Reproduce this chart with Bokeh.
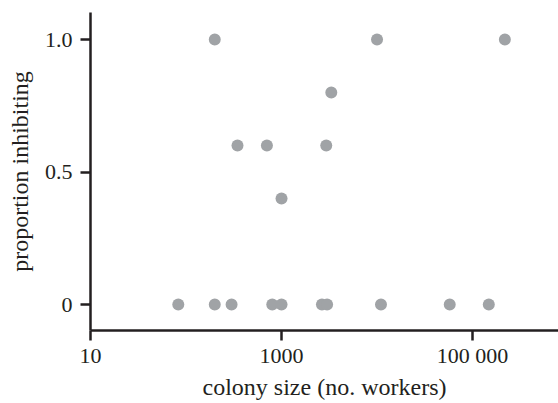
from bokeh.plotting import figure
from bokeh.models import FixedTicker, Range1d
from bokeh.embed import file_html
from bokeh.resources import INLINE

# data
colony_size = [83, 200, 300, 800, 1000, 2650, 3000, 11000, 57700, 148000,
               200, 10000, 218000, 3320, 346, 703, 2940, 1000]
proportion = [0, 0, 0, 0, 0, 0, 0, 0, 0, 0,
              1.0, 1.0, 1.0, 0.8, 0.6, 0.6, 0.6, 0.4]

x_ticks = [10, 1000, 100000]
x_tick_labels = ["10", "1000", "100 000"]
y_ticks = [0, 0.5, 1.0]
y_tick_labels = ["0", "0.5", "1.0"]

FONT = "Liberation Serif"
DARK = "#231f20"

p = figure(width=558, height=403, x_axis_type="log",
           x_range=Range1d(10, 10 ** 5.9),
           y_range=Range1d(-0.098, 1.102),
           output_backend="svg", toolbar_location=None,
           min_border_left=90, min_border_right=0, min_border_top=12,
           min_border_bottom=73)

p.scatter(colony_size, proportion, size=12, color="#a0a3a6", line_color=None)

p.xgrid.visible = False
p.ygrid.visible = False
p.outline_line_color = None
p.background_fill_color = "white"
p.border_fill_color = "white"

p.xaxis.ticker = FixedTicker(ticks=x_ticks)
p.xaxis.major_label_overrides = {t: l for t, l in zip(x_ticks, x_tick_labels)}
p.yaxis.ticker = FixedTicker(ticks=y_ticks)
p.yaxis.major_label_overrides = {t: l for t, l in zip(y_ticks, y_tick_labels)}

p.xaxis.axis_label = "colony size (no. workers)"
p.yaxis.axis_label = "proportion inhibiting"

for ax in (p.xaxis[0], p.yaxis[0]):
    ax.axis_line_color = DARK
    ax.axis_line_width = 2.5
    ax.major_tick_line_color = DARK
    ax.major_tick_line_width = 2.5
    ax.major_tick_out = 10
    ax.major_tick_in = 0
    ax.minor_tick_line_color = None
    ax.major_label_text_font = FONT
    ax.major_label_text_font_size = "22px"
    ax.major_label_text_color = DARK
    ax.axis_label_text_font = FONT
    ax.axis_label_text_font_size = "24px"
    ax.axis_label_text_font_style = "normal"
    ax.axis_label_text_color = DARK

p.xaxis.major_label_standoff = 2
p.xaxis.axis_label_standoff = 3
p.yaxis.major_label_standoff = 8
p.yaxis.axis_label_standoff = 9

open("out.html", "w").write(file_html(p, INLINE))
